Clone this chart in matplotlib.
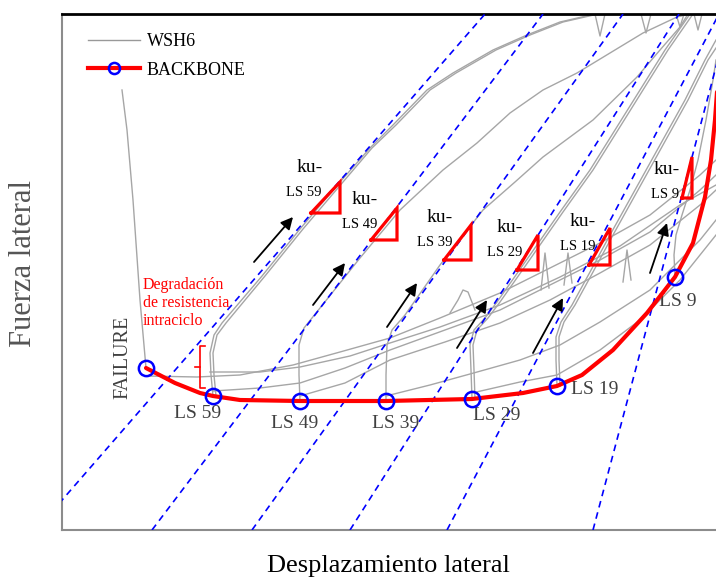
import matplotlib
matplotlib.use("Agg")
import matplotlib.pyplot as plt
from matplotlib.lines import Line2D

plt.rcParams['font.family'] = ['Liberation Serif', 'DejaVu Serif']

# ---------------- data (schematic units: displacement x, force y) ----------------
# backbone curve
bb_x = [146, 175, 200, 213, 240, 300, 386, 472, 523, 557, 582, 613, 647, 675, 693, 705, 711, 715, 717]
bb_y = [368, 383, 393, 396, 400, 401, 401, 399, 393, 386, 375, 350, 313, 277, 243, 197, 160, 120, 92]
# limit-state points on the backbone
ls_x = [146, 213, 300, 386, 472, 557, 675]
ls_y = [368, 396, 401, 401, 399, 386, 277]
ls_names = ["LS 59", "LS 49", "LS 39", "LS 29", "LS 19", "LS 9"]
ls_lab_x = [198, 295, 396, 497, 595, 678]
ls_lab_y = [413, 423, 423, 415, 390, 302]

# unloading stiffness lines (x at bottom y=530 and at top y=14)
ku_bot_x = [36, 152, 252, 350, 447, 593]
ku_top_x = [485, 543, 623, 679, 719, 730]
ku_y0, ku_y1 = 530, 14

# stiffness triangles (x0,y0 on line, x1,y1 apex)
tri_x0 = [311, 371, 444, 517, 589, 682]
tri_y0 = [213, 240, 260, 270, 265, 198]
tri_x1 = [340, 397, 471, 538, 610, 692]
tri_y1 = [182, 208, 225, 235, 228, 157]
ku_lab_x = [310, 365, 440, 510, 583, 667]
ku_lab_y = [168, 199, 217, 227, 222, 170]
ku_sub_x = [304, 360, 435, 505, 578, 665]
ku_sub_y = [193, 225, 242, 252, 247, 195]

# arrows (tail -> head)
arr_x0 = [254, 313, 387, 457, 533, 650]
arr_y0 = [262, 305, 327, 348, 353, 273]
arr_x1 = [293, 345, 417, 487, 563, 667]
arr_y1 = [217, 263, 283, 300, 298, 223]

# hysteresis (WSH6) branches
rel_x = [
    [213, 211, 210, 214, 222, 262, 300, 340, 370, 393, 427, 453, 493, 527, 560, 595],
    [216, 214, 213, 217, 226, 265, 303, 343, 372, 396, 430, 456, 496, 530, 563, 598],
    [300, 299, 299, 304, 316, 360, 400, 443, 477, 510, 543, 577, 610, 643, 677, 690],
    [386, 386, 387, 392, 405, 440, 483, 515, 543, 593, 637, 660, 680, 688],
    [472, 471, 470, 474, 485, 497, 530, 560, 590, 615, 640, 665, 690],
    [475, 474, 473, 477, 488, 500, 533, 563, 593, 618, 643, 668, 693],
    [557, 556, 556, 561, 572, 590, 610, 635, 660, 685, 705, 716],
    [560, 559, 559, 564, 575, 593, 613, 638, 663, 688, 708, 716],
    [675, 674, 676, 682, 690, 698, 706, 713, 716],
    [146, 140, 133, 127, 122],
]
rel_y = [
    [396, 375, 353, 335, 323, 276, 229, 182, 148, 125, 90, 73, 50, 35, 22, 14],
    [396, 375, 353, 335, 323, 276, 229, 182, 148, 125, 90, 73, 50, 35, 22, 14],
    [401, 375, 345, 328, 313, 258, 210, 170, 143, 113, 90, 73, 53, 33, 17, 14],
    [401, 375, 345, 330, 315, 265, 210, 182, 157, 120, 77, 50, 27, 14],
    [399, 370, 345, 330, 318, 302, 255, 212, 170, 130, 90, 50, 14],
    [399, 370, 345, 330, 318, 302, 255, 212, 170, 130, 90, 50, 14],
    [386, 360, 337, 322, 305, 272, 235, 190, 145, 100, 60, 40],
    [386, 360, 337, 322, 305, 272, 235, 190, 145, 100, 60, 48],
    [277, 255, 235, 215, 190, 160, 120, 80, 60],
    [368, 300, 200, 130, 90],
]
fan_x = [
    [146, 197, 240, 293, 340, 390, 440, 500, 550, 600, 650, 700, 716],
    [213, 260, 300, 345, 390, 445, 500, 550, 600, 650, 700, 716],
    [300, 345, 390, 445, 500, 550, 600, 650, 700, 716],
    [386, 430, 470, 520, 560, 600, 650, 700, 716],
    [472, 520, 557, 600, 640, 680, 716],
    [210, 260, 300, 350, 390, 440, 500, 560, 620, 680, 716],
]
fan_y = [
    [376, 377, 375, 365, 352, 338, 318, 293, 268, 243, 215, 175, 160],
    [391, 388, 383, 368, 350, 330, 310, 285, 260, 232, 190, 175],
    [396, 383, 360, 342, 323, 300, 273, 245, 205, 190],
    [396, 385, 374, 360, 345, 322, 290, 240, 220],
    [393, 382, 375, 350, 320, 280, 235],
    [372, 372, 367, 356, 343, 327, 305, 277, 246, 205, 185],
]
spike_x = [[450, 458, 463, 468, 475], [541, 545, 549], [564, 568, 572], [623, 627, 631],
           [595, 600, 605], [641, 646, 651], [676, 680, 684], [694, 698, 702]]
spike_y = [[313, 300, 290, 292, 310], [290, 253, 288], [285, 253, 283], [282, 250, 280],
           [14, 36, 14], [14, 33, 14], [14, 27, 14], [14, 30, 14]]

# ---------------- figure ----------------
W, H = 716, 580
fig = plt.figure(figsize=(W / 100, H / 100), dpi=100)
ax = fig.add_axes([62 / W, (H - 530) / H, (716 - 62) / W, (530 - 14) / H])
ax.set_xlim(62, 716)
ax.set_ylim(530, 14)
ax.set_xticks([])
ax.set_yticks([])
ax.spines['right'].set_visible(False)
ax.spines['top'].set_linewidth(2.0)
ax.spines['top'].set_color('black')
for s in ('left', 'bottom'):
    ax.spines[s].set_linewidth(1.5)
    ax.spines[s].set_color('#8c8c8c')

gray = '#a6a6a6'
for xs, ys in zip(rel_x, rel_y):
    ax.plot(xs, ys, color=gray, lw=1.0, zorder=2)
for xs, ys in zip(fan_x, fan_y):
    ax.plot(xs, ys, color=gray, lw=1.0, zorder=2)
for xs, ys in zip(spike_x, spike_y):
    ax.plot(xs, ys, color=gray, lw=1.0, zorder=2)

for xb, xt in zip(ku_bot_x, ku_top_x):
    ax.plot([xb, xt], [ku_y0, ku_y1], color='#0000ff', lw=1.2,
            linestyle=(0, (4, 3)), zorder=3)

for x0, y0, x1, y1 in zip(tri_x0, tri_y0, tri_x1, tri_y1):
    ax.plot([x0, x1, x1, x0], [y0, y1, y0, y0], color='#ff0000', lw=2.3,
            solid_joinstyle='miter', zorder=5)

for x, y in zip(ku_lab_x, ku_lab_y):
    ax.text(x, y, 'ku-', fontsize=14, ha='center', va='center', zorder=6)
for x, y, n in zip(ku_sub_x, ku_sub_y, ls_names):
    ax.text(x, y, n, fontsize=10.5, ha='center', va='center', zorder=6)

for x0, y0, x1, y1 in zip(arr_x0, arr_y0, arr_x1, arr_y1):
    ax.annotate('', xy=(x1, y1), xytext=(x0, y0),
                arrowprops=dict(arrowstyle='-|>', color='black', lw=1.3,
                                mutation_scale=18, shrinkA=0, shrinkB=0), zorder=6)

ax.plot(bb_x, bb_y, color='#ff0000', lw=3.0, zorder=7, solid_capstyle='round')
ax.plot(ls_x, ls_y, linestyle='none', marker='o', ms=11, mfc='none',
        mec='#0000ff', mew=1.8, zorder=8)

for x, y, n in zip(ls_lab_x, ls_lab_y, ls_names):
    ax.text(x, y, n, fontsize=14, color='#404040', ha='center', va='center', zorder=6)
ax.text(123, 357, 'FAILURE', fontsize=14.5, color='#404040', rotation=90,
        ha='center', va='center')

ax.text(143, 303, 'Degradación\nde resistencia\nintraciclo', fontsize=11.5,
        color='#ff0000', ha='left', va='center', linespacing=1.15)
ax.plot([205, 200, 200, 205], [346, 346, 388, 388], color='#ff0000', lw=1.2)
ax.plot([195, 200], [367, 367], color='#ff0000', lw=1.2)

handles = [Line2D([], [], color='#999999', lw=1.0),
           Line2D([], [], color='#ff0000', lw=3.0, marker='o', ms=8, mfc='none',
                  mec='#0000ff', mew=1.8)]
ax.legend(handles, ['WSH6', 'BACKBONE'], loc='upper left',
          bbox_to_anchor=((88 - 62) / 654, (530 - 33) / 516), frameon=False,
          fontsize=13, handlelength=2.9, handletextpad=0.35, labelspacing=0.64,
          borderpad=0, borderaxespad=0)

fig.text(388 / W, 1 - 566 / H, 'Desplazamiento lateral', fontsize=19,
         ha='center', va='center')
fig.text(24 / W, 1 - 263 / H, 'Fuerza lateral', fontsize=22, color='#555555',
         rotation=90, ha='center', va='center')

fig.savefig('out.png', dpi=100)
